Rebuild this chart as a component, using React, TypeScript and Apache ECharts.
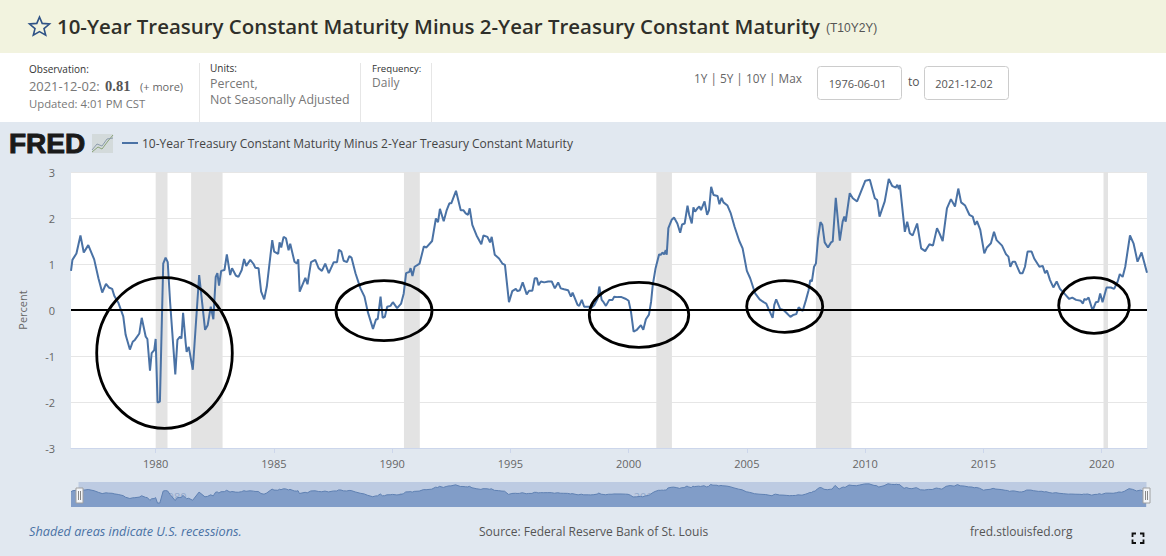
import React, { useEffect, useRef } from "react";
import * as echarts from "echarts";

const SERIES_NAME = "10-Year Treasury Constant Maturity Minus 2-Year Treasury Constant Maturity";
const CHART_TITLE = SERIES_NAME;
const SERIES_ID = "(T10Y2Y)";

// [decimal year, percent]
const spread1976to1980: number[][] = [
  [1976.42,0.85],[1976.48,1.09],[1976.65,1.23],[1976.82,1.62],[1976.96,1.25],[1977.15,1.41],[1977.40,1.10],[1977.58,0.69],
  [1977.74,0.38],[1977.90,0.57],[1978.02,0.49],[1978.16,0.46],[1978.25,0.31],[1978.42,0.16],[1978.63,-0.14],[1978.73,-0.54],
  [1978.91,-0.86],[1979.03,-0.69],[1979.12,-0.65],[1979.31,-0.51],[1979.41,-0.17],[1979.58,-0.58],[1979.65,-0.63],[1979.76,-1.32],
  [1979.83,-0.94],[1979.94,-0.87],[1980.00,-0.63],[1980.08,-2.01],[1980.18,-1.99],[1980.32,1.01],[1980.42,1.14],[1980.51,1.04],
  [1980.61,0.18],[1980.83,-1.40],[1980.92,-0.65],
];
const spread1981to1988: number[][] = [
  [1981.03,-0.58],[1981.09,-0.62],[1981.16,-0.06],[1981.27,-0.72],[1981.31,-0.91],[1981.40,-0.80],[1981.57,-1.30],[1981.84,0.76],
  [1982.09,-0.43],[1982.20,-0.33],[1982.33,0.07],[1982.44,-0.20],[1982.54,0.72],[1982.61,0.80],[1982.68,0.53],[1982.77,0.85],
  [1982.91,0.87],[1983.01,1.21],[1983.15,0.76],[1983.23,0.91],[1983.39,0.75],[1983.50,0.72],[1983.64,0.87],[1983.74,1.11],
  [1983.83,0.96],[1984.00,1.09],[1984.14,1.00],[1984.21,0.92],[1984.35,0.91],[1984.46,0.40],[1984.59,0.23],[1984.70,0.51],
  [1984.93,1.52],[1985.01,1.27],[1985.18,1.22],[1985.24,1.47],[1985.31,1.36],[1985.41,1.59],[1985.51,1.56],[1985.62,1.30],
  [1985.69,1.44],[1985.87,1.05],[1985.97,1.01],[1986.03,1.10],[1986.09,0.40],[1986.33,0.70],[1986.42,0.56],[1986.57,1.04],
  [1986.75,1.09],[1986.89,0.91],[1987.03,0.85],[1987.17,1.01],[1987.32,0.80],[1987.53,1.04],[1987.67,1.04],[1987.75,1.31],
  [1987.85,1.27],[1987.95,1.07],[1988.09,1.04],[1988.19,1.17],[1988.28,1.14],[1988.45,0.80],
];
const spread1988to1995: number[][] = [
  [1988.66,0.47],[1988.83,0.29],[1988.97,-0.04],[1989.19,-0.41],[1989.32,-0.20],[1989.39,-0.20],[1989.51,0.29],[1989.60,-0.17],
  [1989.69,-0.15],[1989.79,0.07],[1989.93,0.09],[1990.03,0.17],[1990.21,0.04],[1990.38,0.14],[1990.49,0.36],[1990.59,0.80],
  [1990.73,0.83],[1990.78,0.91],[1990.86,0.74],[1990.95,0.94],[1991.16,1.01],[1991.34,1.38],[1991.45,1.36],[1991.69,1.50],
  [1991.85,1.99],[1991.94,1.91],[1992.02,2.20],[1992.18,1.93],[1992.30,2.16],[1992.42,2.32],[1992.50,2.32],[1992.70,2.59],
  [1992.90,2.17],[1993.01,2.17],[1993.11,2.10],[1993.21,2.07],[1993.28,2.21],[1993.39,1.85],[1993.57,1.62],[1993.77,1.43],
  [1993.86,1.62],[1994.03,1.59],[1994.14,1.47],[1994.21,1.59],[1994.34,1.20],[1994.52,1.12],[1994.66,1.01],[1994.77,0.98],
  [1994.94,0.17],
];
const spread1995to2001: number[][] = [
  [1995.08,0.41],[1995.23,0.46],[1995.30,0.41],[1995.40,0.43],[1995.52,0.60],[1995.69,0.34],[1995.79,0.42],[1995.93,0.42],
  [1996.03,0.69],[1996.12,0.69],[1996.19,0.54],[1996.29,0.62],[1996.43,0.60],[1996.60,0.62],[1996.75,0.62],[1996.88,0.47],
  [1997.02,0.60],[1997.13,0.47],[1997.27,0.45],[1997.44,0.43],[1997.56,0.29],[1997.63,0.38],[1997.84,0.11],[1997.91,0.09],
  [1998.02,0.22],[1998.12,0.07],[1998.33,0.07],[1998.40,0.04],[1998.55,0.11],[1998.69,0.25],[1998.76,0.51],[1998.86,0.22],
  [1998.94,0.17],[1999.04,0.09],[1999.18,0.22],[1999.32,0.22],[1999.39,0.29],[1999.53,0.28],[1999.70,0.28],[1999.89,0.24],
  [2000.00,0.20],[2000.10,-0.04],[2000.21,-0.47],[2000.35,-0.43],[2000.52,-0.33],[2000.62,-0.43],[2000.73,-0.20],[2000.86,-0.10],
  [2000.95,0.18],
];
const spread2001to2008: number[][] = [
  [2001.02,0.54],[2001.14,0.91],[2001.29,1.21],[2001.36,1.20],[2001.43,1.25],[2001.50,1.21],[2001.57,1.30],[2001.61,1.20],
  [2001.68,1.78],[2001.82,1.96],[2001.92,2.01],[2002.06,1.88],[2002.18,1.68],[2002.26,1.86],[2002.37,1.88],[2002.49,2.27],
  [2002.56,2.07],[2002.67,1.88],[2002.74,2.23],[2002.81,2.14],[2002.91,2.21],[2002.99,2.25],[2003.06,2.17],[2003.21,2.36],
  [2003.32,2.07],[2003.40,2.17],[2003.49,2.68],[2003.59,2.50],[2003.76,2.48],[2003.84,2.30],[2003.93,2.44],[2004.01,2.34],
  [2004.18,2.27],[2004.32,2.10],[2004.48,1.81],[2004.68,1.50],[2004.82,1.34],[2005.00,0.85],[2005.14,0.69],[2005.35,0.36],
  [2005.54,0.23],[2005.71,0.17],[2005.82,0.14],[2005.92,0.02],[2006.09,-0.17],[2006.16,0.11],[2006.24,0.23],[2006.41,0.02],
  [2006.55,0.00],[2006.69,-0.07],[2006.84,-0.15],[2006.95,-0.11],[2007.09,-0.09],[2007.19,0.06],[2007.36,-0.02],[2007.50,0.22],
  [2007.61,0.43],[2007.68,0.65],[2007.75,0.62],[2007.84,0.94],[2007.92,1.01],
];
const spread2008to2014: number[][] = [
  [2008.01,1.56],[2008.11,1.91],[2008.19,1.85],[2008.29,1.47],[2008.43,1.36],[2008.56,1.47],[2008.63,1.49],[2008.76,2.44],
  [2008.93,1.51],[2009.05,1.92],[2009.12,2.03],[2009.18,1.92],[2009.35,2.54],[2009.48,2.43],[2009.66,2.36],[2009.80,2.54],
  [2010.01,2.81],[2010.20,2.83],[2010.41,2.43],[2010.51,2.39],[2010.61,2.03],[2010.83,2.36],[2011.00,2.85],[2011.14,2.70],
  [2011.29,2.66],[2011.36,2.72],[2011.43,2.63],[2011.47,2.72],[2011.68,1.70],[2011.78,1.92],[2011.89,1.67],[2012.01,1.62],
  [2012.20,1.88],[2012.37,1.34],[2012.54,1.28],[2012.72,1.43],[2012.87,1.40],[2013.04,1.78],[2013.14,1.67],[2013.28,1.50],
  [2013.46,2.21],[2013.63,2.41],[2013.80,2.25],[2013.94,2.64],
];
const spread2014to2021: number[][] = [
  [2014.06,2.34],[2014.23,2.27],[2014.41,2.07],[2014.55,2.03],[2014.65,1.85],[2014.73,1.93],[2014.87,1.74],[2015.04,1.23],
  [2015.15,1.36],[2015.32,1.45],[2015.45,1.70],[2015.56,1.52],[2015.79,1.40],[2015.96,1.21],[2016.06,1.16],[2016.14,0.94],
  [2016.24,1.05],[2016.34,1.05],[2016.55,0.80],[2016.66,0.80],[2016.76,0.94],[2016.87,1.27],[2017.04,1.27],[2017.15,1.12],
  [2017.37,0.94],[2017.51,0.96],[2017.61,0.80],[2017.69,0.86],[2017.82,0.65],[2017.96,0.49],[2018.10,0.62],[2018.24,0.46],
  [2018.42,0.36],[2018.63,0.24],[2018.76,0.27],[2018.92,0.22],[2019.12,0.20],[2019.21,0.14],[2019.27,0.24],[2019.35,0.22],
  [2019.45,0.27],[2019.62,-0.01],[2019.76,0.17],[2019.86,0.18],[2019.94,0.36],[2020.04,0.17],[2020.21,0.49],[2020.39,0.49],
  [2020.53,0.46],[2020.68,0.62],[2020.77,0.78],[2020.89,0.72],[2021.00,0.94],[2021.20,1.62],[2021.35,1.45],[2021.52,1.05],
  [2021.69,1.25],[2021.92,0.81],
];
const spreadPoints = [
  ...spread1976to1980, ...spread1981to1988, ...spread1988to1995, ...spread1995to2001,
  ...spread2001to2008, ...spread2008to2014, ...spread2014to2021,
];

const recessions: number[][] = [
  [1980.0, 1980.5], [1981.5, 1982.83], [1990.5, 1991.17], [2001.17, 2001.83], [2007.92, 2009.42], [2020.08, 2020.27],
];
const xTicks = [1980, 1985, 1990, 1995, 2000, 2005, 2010, 2015, 2020];
const navTicks = [1980, 1990, 2000, 2010, 2020];
const X_MIN = 1976.42;
const X_MAX = 2021.92;

const FONT = '"Open Sans", "Noto Sans", sans-serif';
const LINE = "#4a72a5";

function T(text: string, x: number, y: number, size: number, fill: string, extra: any = {}) {
  return {
    type: "text", x, y, z: 5, silent: true,
    style: {
      text, fill, fontSize: size, fontFamily: FONT, verticalAlign: "middle", align: "left",
      ...extra,
    },
  };
}
function R(x: number, y: number, width: number, height: number, fill: string, extra: any = {}, z = -1) {
  return { type: "rect", z, silent: true, shape: { x, y, width, height, ...(extra.r ? { r: extra.r } : {}) }, style: { fill, stroke: extra.stroke, lineWidth: extra.lineWidth } };
}
function VLine(x: number, y1: number, y2: number, stroke: string, lineWidth = 1, z = 5) {
  return { type: "line", z, silent: true, shape: { x1: x, y1, x2: x, y2 }, style: { stroke, lineWidth } };
}
function Ring(cx: number, cy: number, rx: number, ry: number) {
  return { type: "ellipse", z: 20, silent: true, shape: { cx, cy, rx, ry }, style: { fill: "none", stroke: "#000", lineWidth: 2.8 } };
}
function Poly(points: number[][], stroke: string, lineWidth: number, z = 6) {
  return { type: "polyline", z, silent: true, shape: { points }, style: { stroke, lineWidth, fill: "none" } };
}

const starPoints = [
  [39.5, 17], [42.2, 23.4], [49.5, 24], [44, 28.6], [45.7, 35.2], [39.5, 31.6], [33.3, 35.2], [35, 28.6], [29.5, 24], [36.8, 23.4],
];

const graphics: any[] = [
  R(0, 0, 1166, 53, "#f2f3df"),
  R(0, 53, 1166, 69, "#ffffff"),
  { type: "polygon", z: 5, silent: true, shape: { points: starPoints }, style: { fill: "none", stroke: "#2f5286", lineWidth: 1.6 } },
  T(CHART_TITLE, 57, 26, 20.45, "#2f2f2a", { fontWeight: 600 }),
  T(SERIES_ID, 826, 28, 12, "#555", { fontFamily: '"Liberation Sans", sans-serif' }),

  T("Observation:", 29, 69, 10, "#333"),
  T("2021-12-02:", 29, 86, 12.9, "#777"),
  T("0.81", 105, 86, 14.5, "#555", { fontFamily: '"Liberation Serif", serif', fontWeight: 700 }),
  T("(+ more)", 140, 86, 11, "#666"),
  T("Updated: 4:01 PM CST", 29, 103, 11.3, "#777"),
  VLine(199.5, 63, 122, "#e6e6e6"),
  T("Units:", 210, 68, 10, "#333"),
  T("Percent,", 210, 83, 12.4, "#777"),
  T("Not Seasonally Adjusted", 210, 99.5, 12.4, "#777"),
  VLine(360.5, 63, 122, "#e6e6e6"),
  T("Frequency:", 372, 68.5, 9.6, "#333"),
  T("Daily", 372, 82.5, 12, "#777"),
  VLine(431.5, 63, 122, "#e6e6e6"),
  T("1Y | 5Y | 10Y | Max", 694, 78, 11.8, "#666"),
  R(817.5, 66.5, 84, 33, "#fff", { r: 3, stroke: "#ccc", lineWidth: 1 }, 1),
  T("1976-06-01", 857.5, 83, 11, "#555", { align: "center" }),
  T("to", 908, 81, 12, "#555"),
  R(924.5, 66.5, 84, 33, "#fff", { r: 3, stroke: "#ccc", lineWidth: 1 }, 1),
  T("2021-12-02", 964, 83, 11, "#555", { align: "center" }),

  T("FRED", 9, 143, 28, "#1a1a1a", { fontFamily: '"Liberation Sans", sans-serif', fontWeight: 700, stroke: "#1a1a1a", lineWidth: 1 }),
  R(92, 134, 21, 19, "#d3dadb", {}, 1),
  Poly([[92, 152], [98, 147], [102, 149], [108, 141], [113, 135]], "#8aa37a", 1),
  Poly([[92, 150], [97, 144], [102, 146], [107, 139], [113, 138]], "#8c9cab", 1),
  T("Percent", 22, 310, 11, "#666", { align: "center" }),

  R(78.5, 482, 1068, 25, "#bdcbe2", {}, -1),
  R(76, 488, 7, 15, "#f4f6f9", { stroke: "#a0a0a0", lineWidth: 1 }, 8),
  VLine(78.5, 491, 500, "#888", 1, 9),
  VLine(80.5, 491, 500, "#888", 1, 9),
  R(1143, 488, 7, 15, "#f4f6f9", { stroke: "#a0a0a0", lineWidth: 1 }, 8),
  VLine(1145.5, 491, 500, "#888", 1, 9),
  VLine(1147.5, 491, 500, "#888", 1, 9),

  T("Shaded areas indicate U.S. recessions.", 29, 531, 12.7, "#4a72a5", { fontStyle: "italic" }),
  T("Source: Federal Reserve Bank of St. Louis", 479, 531, 12, "#555"),
  T("fred.stlouisfed.org", 970, 531, 12, "#555"),
  Poly([[1132.5, 537], [1132.5, 533.5], [1136, 533.5]], "#111", 1.8),
  Poly([[1140, 533.5], [1143.5, 533.5], [1143.5, 537]], "#111", 1.8),
  Poly([[1132.5, 539.5], [1132.5, 543], [1136, 543]], "#111", 1.8),
  Poly([[1140, 543], [1143.5, 543], [1143.5, 539.5]], "#111", 1.8),

  Ring(164.5, 353, 67.8, 75.3),
  Ring(384, 310.7, 48, 30),
  Ring(639, 314.8, 49.7, 32.5),
  Ring(784.7, 306.5, 38, 25.8),
  Ring(1094, 305.5, 35.3, 27.8),
];
// rotate the axis title
const percentLabel = graphics.find((g) => g.type === "text" && g.style.text === "Percent");
percentLabel.rotation = Math.PI / 2;

export default function App() {
  const ref = useRef<HTMLDivElement>(null);
  useEffect(() => {
    document.body.style.margin = "0";
    document.documentElement.style.overflow = "hidden";
    const chart = echarts.init(ref.current!, undefined, { renderer: "svg" });
    chart.setOption({
      animation: false,
      backgroundColor: "#e1e8f0",
      textStyle: { fontFamily: FONT },
      legend: {
        data: [SERIES_NAME], left: 117, top: 132, itemWidth: 16, itemHeight: 2, icon: "rect", itemGap: 4,
        textStyle: { color: "#444", fontSize: 12, fontFamily: FONT, padding: [0, 0, 0, -1] },
      },
      grid: [
        { left: 71, right: 19, top: 172, height: 276, show: true, backgroundColor: "#fff", borderWidth: 0 },
        { left: 71, right: 20, top: 482, height: 25, show: false },
      ],
      xAxis: [
        {
          type: "value", gridIndex: 0, min: X_MIN, max: X_MAX, splitLine: { show: false },
          axisLine: { onZero: false, lineStyle: { color: "#ccd6eb" } },
          axisTick: { length: 5, lineStyle: { color: "#ccd6eb" }, customValues: xTicks },
          axisLabel: { color: "#666", fontSize: 11, margin: 10, customValues: xTicks, formatter: (v: number) => String(Math.round(v)) },
        },
        {
          type: "value", gridIndex: 1, min: X_MIN, max: X_MAX, splitLine: { show: false },
          axisLine: { show: false, onZero: false }, axisTick: { show: false },
          axisLabel: { inside: true, margin: 5, align: "left", color: "#94a9ca", fontSize: 11, customValues: navTicks, formatter: (v: number) => "  " + Math.round(v) },
        },
      ],
      yAxis: [
        {
          type: "value", gridIndex: 0, min: -3, max: 3, interval: 1,
          name: "", axisLine: { show: false }, axisTick: { show: false },
          axisLabel: { color: "#666", fontSize: 11, margin: 16 },
          splitLine: { lineStyle: { color: "#e6e6e6", width: 1 } },
        },
        { type: "value", gridIndex: 1, min: -3, max: 3.3, show: false, splitLine: { show: false } },
      ],
      series: [
        {
          name: SERIES_NAME, type: "line", xAxisIndex: 0, yAxisIndex: 0, data: spreadPoints, showSymbol: false, symbol: "none",
          lineStyle: { color: LINE, width: 2 }, itemStyle: { color: LINE }, z: 3,
          markArea: {
            silent: true, itemStyle: { color: "#e3e3e3", opacity: 1 }, label: { show: false },
            data: recessions.map(([a, b]) => [{ xAxis: a }, { xAxis: b }]),
          },
          markLine: {
            silent: true, symbol: "none", label: { show: false }, animation: false,
            lineStyle: { color: "#000", width: 2, type: "solid" }, data: [{ yAxis: 0 }],
          },
        },
        {
          name: "navigator", type: "line", xAxisIndex: 1, yAxisIndex: 1, data: spreadPoints, showSymbol: false, symbol: "none",
          lineStyle: { color: "#5f80b2", width: 1 }, areaStyle: { color: "#819dc8", opacity: 1, origin: "start" }, z: 1,
        },
      ],
      graphic: { elements: graphics },
    });
    return () => chart.dispose();
  }, []);
  return <div ref={ref} style={{ position: "absolute", left: 0, top: 0, width: 1166, height: 556 }} />;
}
